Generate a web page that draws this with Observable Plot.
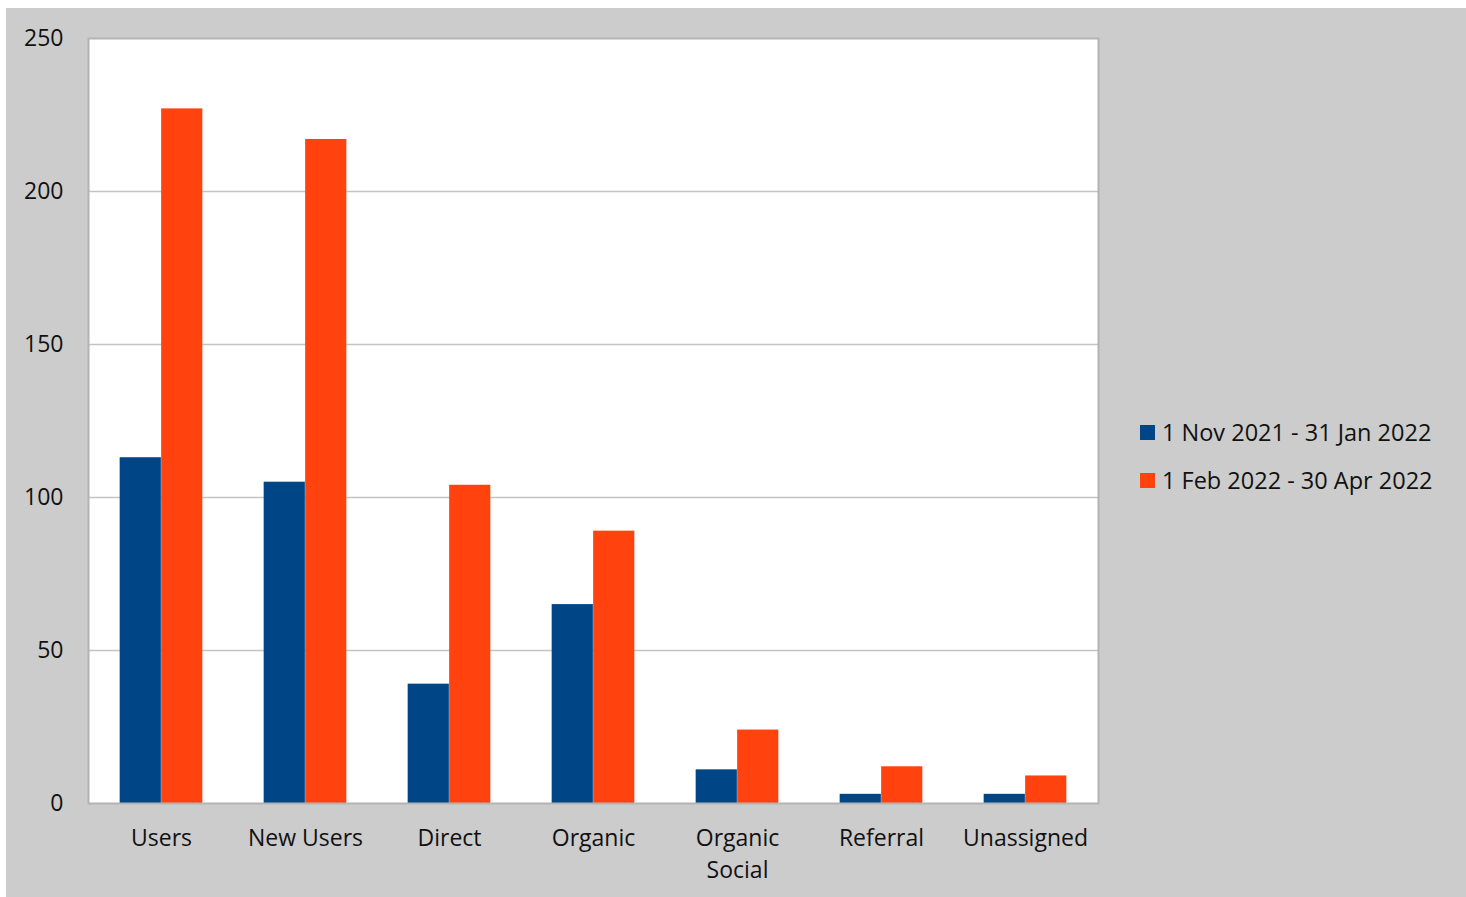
<!DOCTYPE html>
<html>
<head>
<meta charset="utf-8">
<script src="https://cdn.jsdelivr.net/npm/d3@7"></script>
<script src="https://cdn.jsdelivr.net/npm/@observablehq/plot@0.6"></script>
<style>
  html, body { margin: 0; padding: 0; background: #ffffff; }
  #wrap { position: absolute; left: 6px; top: 8px; width: 1460px; height: 889px; background: #cccccc; overflow: hidden; }
  #legend { position: absolute; left: 1134px; top: 400px; font-family: "Open Sans", sans-serif; font-size: 23.5px; color: #111; }
  .item { display: flex; align-items: center; height: 48px; white-space: nowrap; }
  .sw { width: 15px; height: 15px; margin-right: 7px; }
</style>
</head>
<body>
<div id="wrap"><div id="chart"></div><div id="legend"></div></div>
<script>
const categories = ["Users", "New Users", "Direct", "Organic", "Organic Social", "Referral", "Unassigned"];
const labels = ["Users", "New Users", "Direct", "Organic", "Organic\nSocial", "Referral", "Unassigned"];
const seriesNames = ["1 Nov 2021 - 31 Jan 2022", "1 Feb 2022 - 30 Apr 2022"];
const seriesA = [113, 105, 39, 65, 11, 3, 3];
const seriesB = [227, 217, 104, 89, 24, 12, 9];
const colors = ["#004586", "#ff420e"];
const yTicks = [0, 50, 100, 150, 200, 250];

const W = 1460, H = 889;
const mL = 82, mR = 368, mT = 30, mB = 94;
const bw = (W - mL - mR) / categories.length;
const group = 0.575 * bw;
const gap = (bw - group) / 2;

const rowsA = categories.map((c, i) => ({cat: c, v: seriesA[i]}));
const rowsB = categories.map((c, i) => ({cat: c, v: seriesB[i]}));
const labelMap = new Map(categories.map((c, i) => [c, labels[i]]));

const chart = Plot.plot({
  width: W, height: H,
  marginLeft: mL, marginRight: mR, marginTop: mT, marginBottom: mB,
  style: {background: "transparent", fontFamily: "Open Sans, sans-serif", fontSize: "23px", color: "#111"},
  x: {domain: categories, padding: 0, label: null},
  y: {domain: [0, 250], label: null},
  marks: [
    Plot.frame({fill: "white", stroke: null}),
    Plot.ruleY(yTicks.slice(1, -1), {stroke: "#c4c4c4", strokeWidth: 1.5}),
    Plot.barY(rowsA, {x: "cat", y: "v", fill: colors[0], insetLeft: gap, insetRight: bw / 2}),
    Plot.barY(rowsB, {x: "cat", y: "v", fill: colors[1], insetLeft: bw / 2, insetRight: gap}),
    Plot.frame({stroke: "#b3b3b3", strokeWidth: 2}),
    Plot.axisY({ticks: yTicks, tickSize: 0, tickPadding: 25, label: null}),
    Plot.axisX({tickSize: 0, tickPadding: 19, label: null, lineHeight: 1.42, tickFormat: d => labelMap.get(d)})
  ]
});
document.getElementById("chart").appendChild(chart);

const legend = document.getElementById("legend");
seriesNames.forEach((n, i) => {
  const d = document.createElement("div");
  d.className = "item";
  d.innerHTML = `<span class="sw" style="background:${colors[i]}"></span><span>${n}</span>`;
  legend.appendChild(d);
});
</script>
</body>
</html>
